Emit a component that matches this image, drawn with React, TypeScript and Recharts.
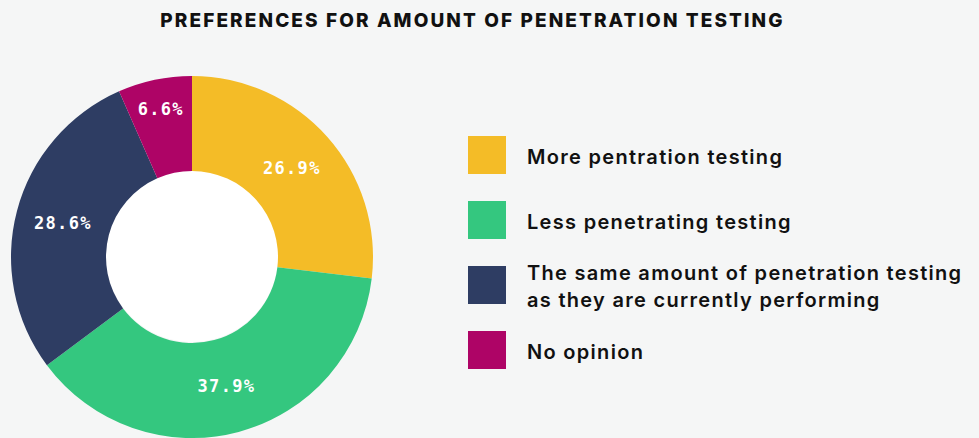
import { PieChart, Pie, Cell, Legend } from "recharts";

const categories = [
  "More pentration testing",
  "Less penetrating testing",
  "The same amount of penetration testing as they are currently performing",
  "No opinion",
];
const shares = [26.9, 37.9, 28.6, 6.6];
const colors = ["#F4BC27", "#34C77F", "#2E3D63", "#AE0466"];
const title = "PREFERENCES FOR AMOUNT OF PENETRATION TESTING";

const data = categories.map((name, i) => ({ name, value: shares[i] }));
const hole = [{ name: "hole", value: 1 }];

const RAD = Math.PI / 180;

function renderLabel(props: any) {
  const { cx, cy, midAngle, innerRadius, outerRadius, value, percent } = props;
  let r = (innerRadius + outerRadius) / 2;
  if (percent < 0.1) r += 18;
  const x = cx + r * Math.cos(-midAngle * RAD);
  const y = cy + r * Math.sin(-midAngle * RAD);
  return (
    <text
      x={x}
      y={y}
      fill="#ffffff"
      textAnchor="middle"
      dominantBaseline="central"
      fontFamily="'DejaVu Sans Mono', monospace"
      fontWeight={700}
      fontSize={17}
      letterSpacing={1.3}
    >
      {value.toFixed(1)}%
    </text>
  );
}

function LegendBox() {
  return (
    <div style={{ display: "flex", flexDirection: "column" }}>
      {categories.map((c, i) => (
        <div
          key={c}
          style={{ display: "flex", alignItems: "center", height: 38, marginBottom: 27 }}
        >
          <div style={{ width: 38, height: 38, background: colors[i], flexShrink: 0 }} />
          <div
            style={{
              marginLeft: 21,
              paddingTop: 4,
              fontFamily: "Inter, sans-serif",
              fontWeight: 600,
              fontSize: 20,
              letterSpacing: 1.3,
              lineHeight: "27px",
              color: "#111",
              width: 452,
            }}
          >
            {c}
          </div>
        </div>
      ))}
    </div>
  );
}

export default function App() {
  return (
    <div
      style={{
        position: "fixed",
        left: 0,
        top: 0,
        width: 979,
        height: 438,
        background: "#F5F6F6",
        overflow: "hidden",
      }}
    >
      <div
        style={{
          position: "absolute",
          top: 9,
          left: 0,
          width: 945,
          textAlign: "center",
          fontFamily: "Inter, sans-serif",
          fontWeight: 800,
          fontSize: 19,
          letterSpacing: 2.1,
          color: "#111",
        }}
      >
        {title}
      </div>
      <PieChart
        width={979}
        height={438}
        margin={{ top: 0, right: 0, bottom: 0, left: 0 }}
        style={{ position: "absolute", left: 0, top: 0 }}
      >
        <Pie
          data={hole}
          dataKey="value"
          cx={192}
          cy={256}
          outerRadius={86}
          fill="#ffffff"
          stroke="none"
          isAnimationActive={false}
        />
        <Pie
          data={data}
          dataKey="value"
          cx={192}
          cy={257}
          innerRadius={86}
          outerRadius={181}
          startAngle={90}
          endAngle={-270}
          stroke="none"
          labelLine={false}
          label={renderLabel}
          isAnimationActive={false}
        >
          {data.map((d, i) => (
            <Cell key={d.name} fill={colors[i]} />
          ))}
        </Pie>
        <Legend
          content={() => <LegendBox />}
          wrapperStyle={{ position: "absolute", left: 468, top: 136, width: 511 }}
        />
      </PieChart>
    </div>
  );
}
